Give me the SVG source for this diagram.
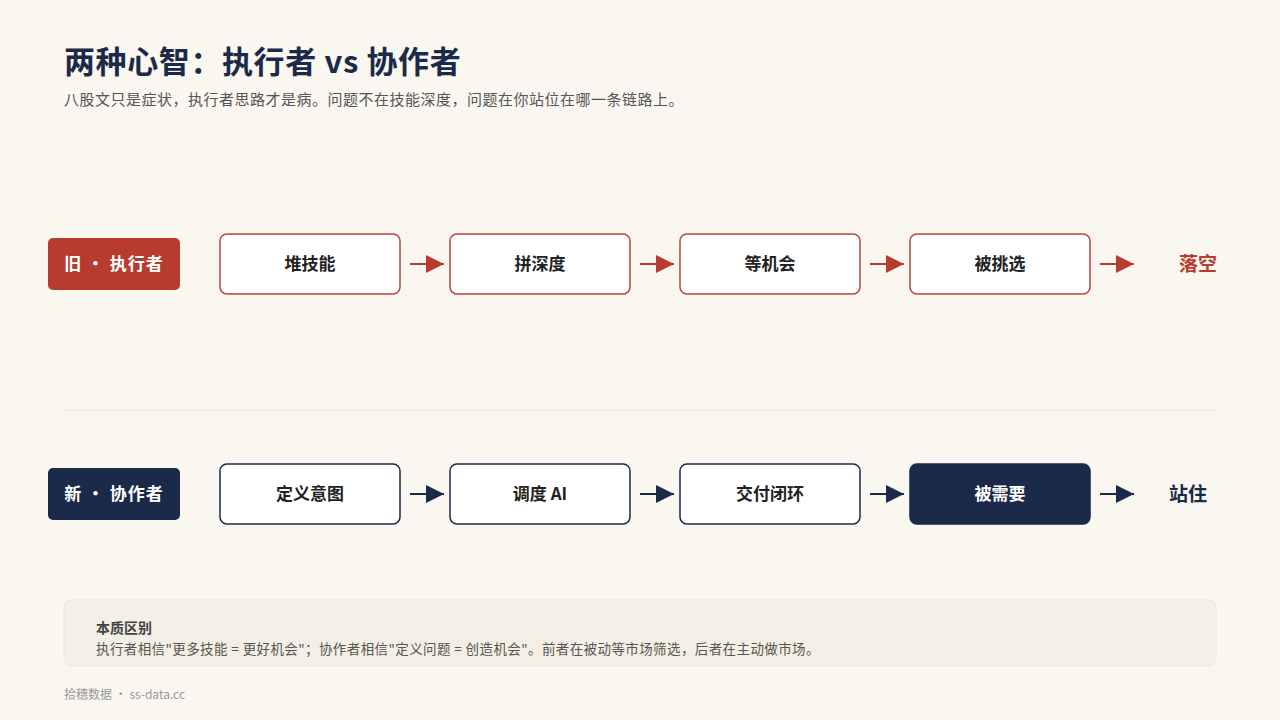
<svg xmlns="http://www.w3.org/2000/svg" width="1280" height="720" viewBox="0 0 1280 720">
<style>
text{font-family:"Noto Sans CJK SC","Noto Sans",sans-serif}
.t{font-size:31px;font-weight:700;fill:#1a2a48;letter-spacing:0.6px}
.sub{font-size:15px;fill:#555;letter-spacing:0.5px}
.lab{font-size:17px;font-weight:700;fill:#fff;text-anchor:middle;letter-spacing:1px}
.bo{fill:#fff;stroke:#b5473d;stroke-width:1.5}
.bn{fill:#fff;stroke:#1a2a48;stroke-width:1.5}
.bt{font-size:17px;font-weight:700;fill:#222;text-anchor:middle}
.ro{stroke:#b83b30;stroke-width:2}
.rn{stroke:#1a2a48;stroke-width:2}
</style>
<defs>
<marker id="ar" viewBox="0 0 10 10" refX="10" refY="5" markerWidth="18" markerHeight="18" markerUnits="userSpaceOnUse" orient="auto"><path d="M0,0L10,5L0,10z" fill="#b83b30"/></marker>
<marker id="an" viewBox="0 0 10 10" refX="10" refY="5" markerWidth="18" markerHeight="18" markerUnits="userSpaceOnUse" orient="auto"><path d="M0,0L10,5L0,10z" fill="#1a2a48"/></marker>
</defs>
<rect width="1280" height="720" fill="#faf6f0"/>
<text x="64" y="73" class="t">两种心智：执行者 vs 协作者</text>
<text x="64" y="105" class="sub">八股文只是症状，执行者思路才是病。问题不在技能深度，问题在你站位在哪一条链路上。</text>
<g id="old-label"><rect x="48" y="238" width="132" height="52" rx="5" fill="#b83b30"/><text x="114" y="270" class="lab">旧 · 执行者</text></g>
<g id="o1"><rect x="220" y="234" width="180" height="60" rx="7" class="bo"/><text x="310" y="270" class="bt">堆技能</text></g>
<g id="o2"><rect x="450" y="234" width="180" height="60" rx="7" class="bo"/><text x="540" y="270" class="bt">拼深度</text></g>
<g id="o3"><rect x="680" y="234" width="180" height="60" rx="7" class="bo"/><text x="770" y="270" class="bt">等机会</text></g>
<g id="o4"><rect x="910" y="234" width="180" height="60" rx="7" class="bo"/><text x="1000" y="270" class="bt">被挑选</text></g>
<g id="o5"><text x="1198" y="271" font-size="19" font-weight="700" fill="#b83b30" text-anchor="middle">落空</text></g>
<line x1="64" y1="410" x2="1216" y2="410" stroke="#e8e2d8" stroke-width="1"/>
<g id="new-label"><rect x="48" y="468" width="132" height="52" rx="5" fill="#1a2a48"/><text x="114" y="500" class="lab">新 · 协作者</text></g>
<g id="n1"><rect x="220" y="464" width="180" height="60" rx="7" class="bn"/><text x="310" y="500" class="bt">定义意图</text></g>
<g id="n2"><rect x="450" y="464" width="180" height="60" rx="7" class="bn"/><text x="540" y="500" class="bt">调度 AI</text></g>
<g id="n3"><rect x="680" y="464" width="180" height="60" rx="7" class="bn"/><text x="770" y="500" class="bt">交付闭环</text></g>
<g id="n4"><rect x="910" y="464" width="180" height="60" rx="7" fill="#1a2a48" stroke="#1a2a48" stroke-width="1.5"/><text x="1000" y="500" class="bt" style="fill:#fff">被需要</text></g>
<g id="n5"><text x="1188" y="501" font-size="19" font-weight="700" fill="#1a2a48" text-anchor="middle">站住</text></g>
<g id="connectors">
<line x1="410" y1="264" x2="444" y2="264" class="ro" marker-end="url(#ar)"/>
<line x1="640" y1="264" x2="674" y2="264" class="ro" marker-end="url(#ar)"/>
<line x1="870" y1="264" x2="904" y2="264" class="ro" marker-end="url(#ar)"/>
<line x1="1100" y1="264" x2="1134" y2="264" class="ro" marker-end="url(#ar)"/>
<line x1="410" y1="494" x2="444" y2="494" class="rn" marker-end="url(#an)"/>
<line x1="640" y1="494" x2="674" y2="494" class="rn" marker-end="url(#an)"/>
<line x1="870" y1="494" x2="904" y2="494" class="rn" marker-end="url(#an)"/>
<line x1="1100" y1="494" x2="1134" y2="494" class="rn" marker-end="url(#an)"/>
</g>
<g id="note"><rect x="64" y="600" width="1152" height="66" rx="8" fill="#f3efe5" stroke="#ebe6da"/>
<text x="96" y="633" font-size="14" font-weight="700" fill="#444">本质区别</text>
<text x="96" y="654" font-size="13.5" fill="#555" letter-spacing="0.4">执行者相信"更多技能 = 更好机会"；协作者相信"定义问题 = 创造机会"。前者在被动等市场筛选，后者在主动做市场。</text></g>
<text x="64" y="699" font-size="12" fill="#999">拾穗数据 · ss-data.cc</text>
</svg>
